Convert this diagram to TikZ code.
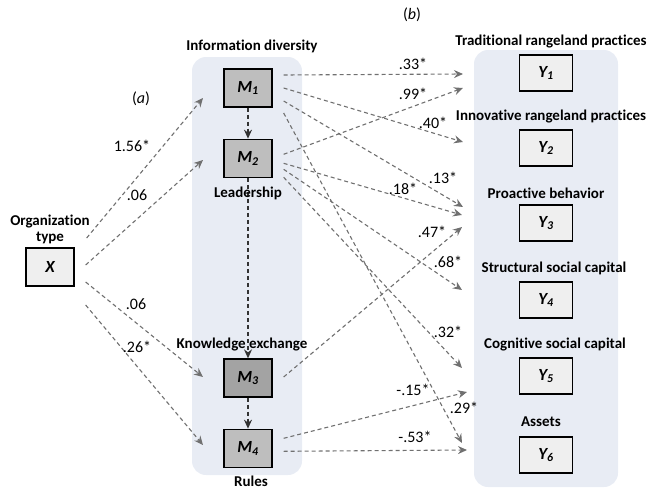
\documentclass[tikz,border=0pt]{standalone}
\usepackage{fontspec}
\setmainfont[Ligatures=NoCommon]{Carlito}
\usepackage{tikz}
\usetikzlibrary{arrows.meta,positioning}
\definecolor{panelblue}{HTML}{E8ECF4}
\definecolor{boxlight}{HTML}{EFEFEF}
\definecolor{medgray}{HTML}{BEBEBE}
\definecolor{deepgray}{HTML}{A3A3A3}
\definecolor{pathgray}{HTML}{707070}
\tikzset{
    %Define standard arrow tip
    >={Stealth[length=9pt,width=8pt,inset=3pt]},
    %Define style for boxes
    mediator/.style={
           rectangle,
           draw=black, line width=1.3pt,
           minimum width=48pt,
           minimum height=38pt,
           font=\fontsize{17}{20}\selectfont\bfseries\itshape,
           text centered,
           fill=medgray},
    outcome/.style={
           rectangle,
           draw=black, line width=1.3pt,
           minimum width=53pt,
           minimum height=36pt,
           font=\fontsize{17}{20}\selectfont\bfseries\itshape,
           text centered,
           fill=boxlight},
    caption/.style={
           font=\fontsize{15}{18}\selectfont\bfseries,
           align=center},
    coef/.style={
           font=\fontsize{16}{19}\selectfont},
    % Define arrow style
    pil/.style={
           ->,
           dash pattern=on 4pt off 3pt,
           line width=1.1pt,
           color=pathgray},
    link/.style={
           ->,
           dash pattern=on 4pt off 3pt,
           line width=1.3pt,
           color=black!80}
}
\begin{document}
\begin{tikzpicture}[x=1pt,y=-1pt,node distance=31pt]
\useasboundingbox (0,0) rectangle (654,490);
% panels
\fill[panelblue, rounded corners=14pt] (192,57) rectangle (302,475);
\fill[panelblue, rounded corners=14pt] (474,50) rectangle (618,487);
% boxes
\node[outcome, minimum width=48pt, minimum height=38pt](x) at (50,267){X};
\node[mediator](m1) at (248,88){M\textsubscript{1}};
\node[mediator, below=of m1](m2){M\textsubscript{2}};
\node[mediator, fill=deepgray](m3) at (248,378){M\textsubscript{3}};
\node[mediator, below=of m3](m4){M\textsubscript{4}};
\node[outcome](y1) at (546,73){Y\textsubscript{1}};
\node[outcome](y2) at (546,148){Y\textsubscript{2}};
\node[outcome](y3) at (546,223){Y\textsubscript{3}};
\node[outcome](y4) at (546,300){Y\textsubscript{4}};
\node[outcome](y5) at (546,376){Y\textsubscript{5}};
\node[outcome](y6) at (546,455){Y\textsubscript{6}};
% free arrow ends
\coordinate (m1in) at (203,98);
\coordinate (m2in) at (203,160);
\coordinate (m3in) at (203,377);
\coordinate (m4in) at (203,445);
\coordinate (y1a) at (463,74);
\coordinate (y1b) at (463,88);
\coordinate (y2a) at (463,142);
\coordinate (y3a) at (463,207);
\coordinate (y3b) at (462,215);
\coordinate (y3c) at (462,227);
\coordinate (y4a) at (462,290);
\coordinate (y5a) at (462,368);
\coordinate (y5b) at (467,392);
\coordinate (y6a) at (462,443);
\coordinate (y6b) at (467,450);
% paths (a)
\path[pil]
	([shift={(12,-29)}]x.east) edge (m1in)
	([shift={(11,-2)}]x.east) edge (m2in)
	([shift={(11,15)}]x.east) edge (m3in)
	([shift={(11,38)}]x.east) edge (m4in);
\path[link]
	(m1) edge (m2)
	(m2) edge (m3)
	(m3) edge (m4);
% paths (b)
\path[pil]
	([shift={(11,-13)}]m1.east) edge (y1a)
	([shift={(11,0)}]m1.east) edge (y2a)
	([shift={(11,13)}]m1.east) edge (y3a)
	([shift={(11,25)}]m1.east) edge (y6a)
	([shift={(11,-4)}]m2.east) edge (y1b)
	([shift={(11,5)}]m2.east) edge (y3b)
	([shift={(11,11)}]m2.east) edge (y4a)
	([shift={(11,19)}]m2.east) edge (y5a)
	([shift={(11,-1)}]m3.east) edge (y3c)
	([shift={(11,-10)}]m4.east) edge (y5b)
	([shift={(11,3)}]m4.east) edge (y6b);
% captions
\node[caption](c1) at (252,46){Information diversity};
\node[caption](c2) at (248,193){Leadership};
\node[caption](c3) at (242,345){Knowledge exchange};
\node[caption](c4) at (251,481){Rules};
\node[caption](cx) at (50,229){Organization\\[-2pt]type};
\node[caption](d1) at (551,42){Traditional rangeland practices};
\node[caption](d2) at (551,117){Innovative rangeland practices};
\node[caption](d3) at (546,193){Proactive behavior};
\node[caption](d4) at (554,268){Structural social capital};
\node[caption](d5) at (555,345){Cognitive social capital};
\node[caption](d6) at (541,422){Assets};
\node[coef](pa) at (141,99){(\textit{a})};
\node[coef](pb) at (412,15){(\textit{b})};
% coefficients
\node[coef] at (132,146){1.56*};
\node[coef] at (137,195){.06};
\node[coef] at (136,304){.06};
\node[coef] at (137,347){.26*};
\node[coef] at (413,64){.33*};
\node[coef] at (413,94){.99*};
\node[coef] at (433,123){.40*};
\node[coef] at (443,178){.13*};
\node[coef] at (403,189){.18*};
\node[coef] at (432,232){.47*};
\node[coef] at (448,262){.68*};
\node[coef] at (448,332){.32*};
\node[coef] at (413,390){-.15*};
\node[coef] at (464,408){.29*};
\node[coef] at (415,437){-.53*};
\end{tikzpicture}
\end{document}
